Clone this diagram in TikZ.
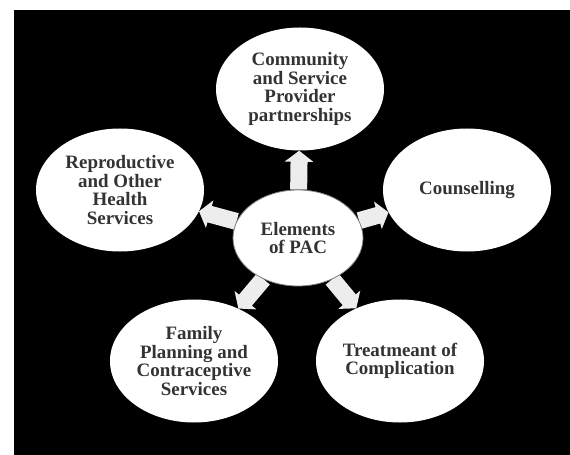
\documentclass[tikz,border=0pt]{standalone}
\usepackage{fontspec}
\setmainfont{Liberation Serif}
\usetikzlibrary{arrows.meta,shapes.geometric}

\pgfdeclarelayer{back}
\pgfdeclarelayer{mid}
\pgfsetlayers{back,mid,main}

\definecolor{txtgray}{HTML}{333333}
\definecolor{arrowgray}{HTML}{EDEDED}
\definecolor{rimgray}{HTML}{808080}

\tikzset{
  element/.style={ellipse, fill=white, text=txtgray, align=center, inner sep=0pt,
    font=\bfseries\fontsize{19}{18.5}\selectfont,
    minimum width=168bp, minimum height=123bp},
  hub/.style={element, draw=rimgray, line width=0.8bp,
    minimum width=130bp, minimum height=96bp},
  spoke/.style={arrowgray, line width=17bp, -{Triangle[width=28bp,length=11bp]}}
}

\begin{document}
\begin{tikzpicture}[x=1bp,y=-1bp]
  \begin{pgfonlayer}{back}
    \fill[white] (0,0) rectangle (570,455); % page margin
    \fill[black] (14,10) rectangle (570,455); % dark panel
  \end{pgfonlayer}
  \node[hub] (pac) at (298,238) {Elements\\of PAC}; % centre
  \node[element] (community) at (300,89) {Community\\and Service\\Provider\\partnerships};
  \node[element] (counselling) at (467,190) {Counselling};
  \node[element] (treatment) at (400,361) {Treatmeant of\\Complication};
  \node[element] (family) at (194,361) {Family\\Planning and\\Contraceptive\\Services};
  \node[element] (reproductive) at (120,190) {Reproductive\\and Other\\Health\\Services};
  \begin{pgfonlayer}{mid}
    \foreach \target in {community,counselling,treatment,family,reproductive}
      \draw[spoke] (pac) -- (\target); % block arrow to each element
  \end{pgfonlayer}
\end{tikzpicture}
\end{document}
